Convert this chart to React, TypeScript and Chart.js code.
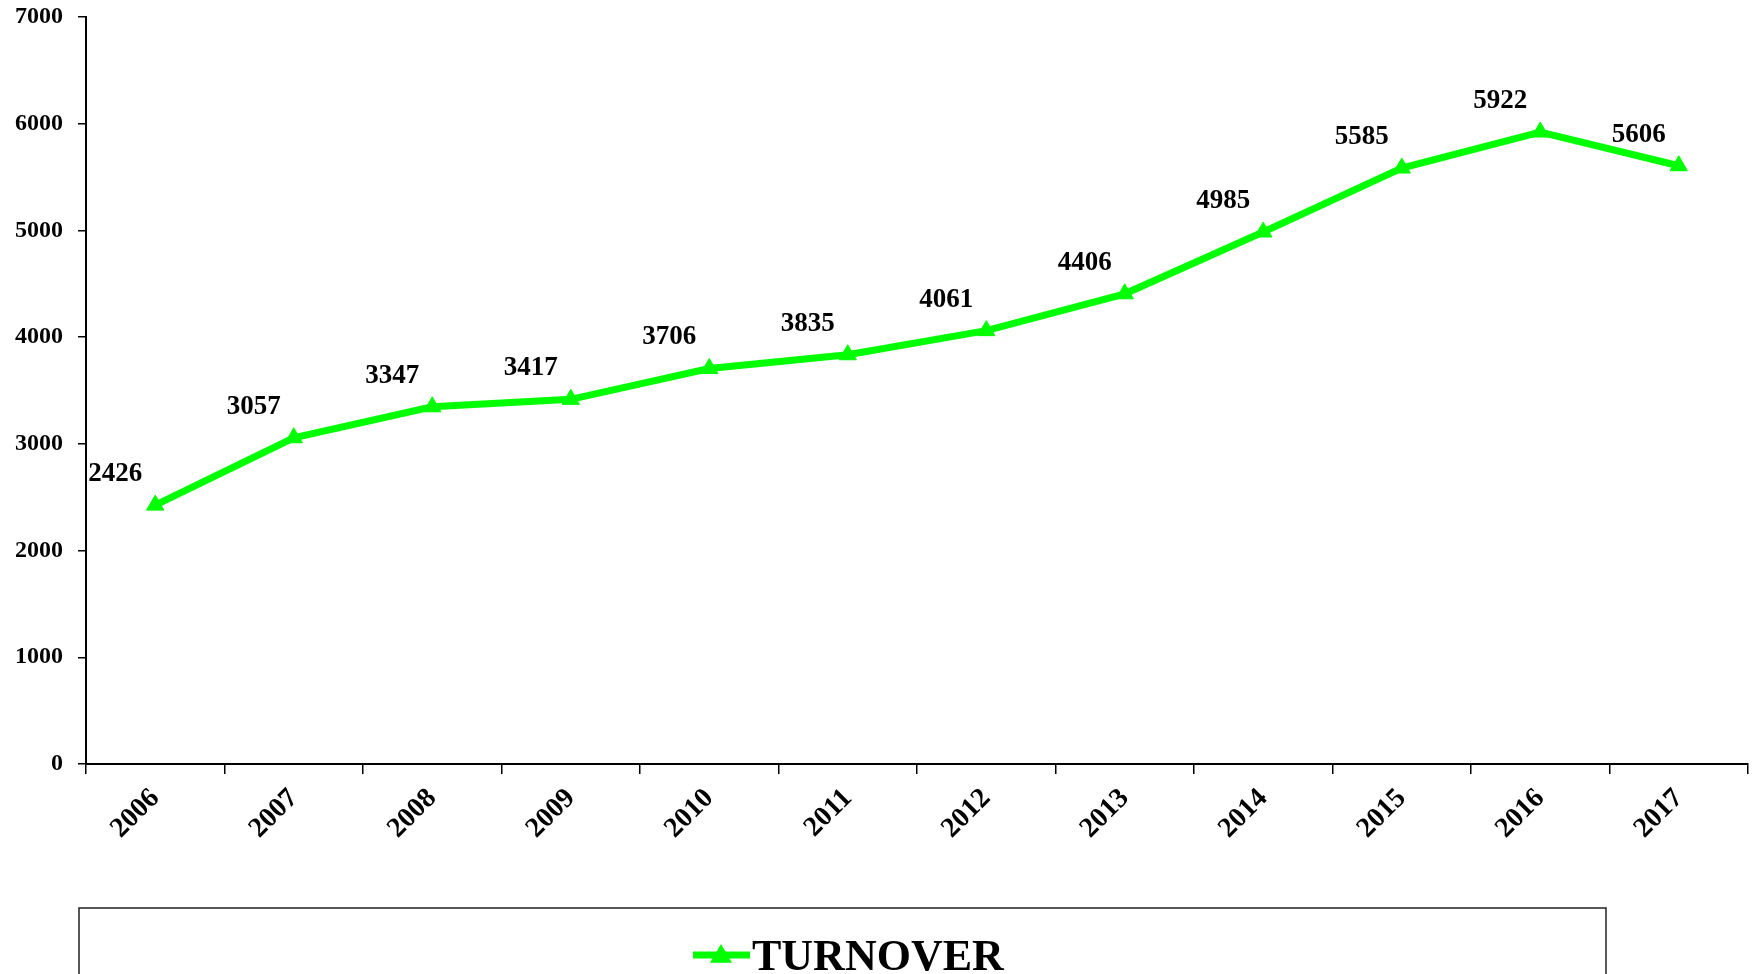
import React, { useEffect, useRef } from "react";
import { Chart, registerables } from "chart.js";

Chart.register(...registerables);

const categories = ["2006", "2007", "2008", "2009", "2010", "2011", "2012", "2013", "2014", "2015", "2016", "2017"];
const turnover = [2426, 3057, 3347, 3417, 3706, 3835, 4061, 4406, 4985, 5585, 5922, 5606];
const seriesLabel = "TURNOVER";
const yMin = 0;
const yMax = 7000;
const yStep = 1000;

const SERIF = '"Liberation Serif", "Times New Roman", serif';
const GREEN = "#00FF00";

const dataLabelPlugin = {
  id: "dataLabels",
  afterDatasetsDraw(chart: any) {
    const ctx = chart.ctx;
    const meta = chart.getDatasetMeta(0);
    const ds = chart.data.datasets[0];
    ctx.save();
    ctx.font = `bold 27px ${SERIF}`;
    ctx.fillStyle = "#000";
    ctx.textAlign = "center";
    ctx.textBaseline = "middle";
    meta.data.forEach((pt: any, i: number) => {
      ctx.fillText(String(ds.data[i]), pt.x - 40, pt.y - 31);
    });
    ctx.restore();
  },
};

const legendBoxPlugin = {
  id: "legendBox",
  afterDraw(chart: any) {
    const ctx = chart.ctx;
    const ds = chart.data.datasets[0];
    ctx.save();
    ctx.strokeStyle = "#222";
    ctx.lineWidth = 1.5;
    ctx.strokeRect(79, 908, 1527, 120);
    const cy = 955;
    ctx.strokeStyle = ds.borderColor;
    ctx.lineWidth = 7;
    ctx.beginPath();
    ctx.moveTo(693, cy);
    ctx.lineTo(750, cy);
    ctx.stroke();
    ctx.fillStyle = ds.backgroundColor;
    const r = 11;
    ctx.beginPath();
    ctx.moveTo(721, cy - r);
    ctx.lineTo(721 + r, cy + r * 0.7);
    ctx.lineTo(721 - r, cy + r * 0.7);
    ctx.closePath();
    ctx.fill();
    ctx.fillStyle = "#000";
    ctx.font = `bold 44px ${SERIF}`;
    ctx.textAlign = "left";
    ctx.textBaseline = "alphabetic";
    ctx.fillText(ds.label, 752, 970);
    ctx.restore();
  },
};

export default function App() {
  const ref = useRef<HTMLCanvasElement>(null);
  useEffect(() => {
    if (!ref.current) return;
    const chart = new Chart(ref.current, {
      type: "line",
      data: {
        labels: categories,
        datasets: [
          {
            label: seriesLabel,
            data: turnover,
            borderColor: GREEN,
            backgroundColor: GREEN,
            borderWidth: 7,
            tension: 0,
            pointStyle: "triangle",
            pointRadius: 10,
            pointBorderWidth: 1,
            pointBackgroundColor: GREEN,
            pointBorderColor: GREEN,
          },
        ],
      },
      options: {
        responsive: false,
        animation: false,
        devicePixelRatio: 1,
        layout: { padding: { top: 17, right: 12, bottom: 0, left: 0 } },
        plugins: {
          legend: { display: false },
          tooltip: { enabled: false },
        },
        scales: {
          x: {
            offset: true,
            grid: {
              offset: true,
              drawOnChartArea: false,
              drawTicks: true,
              tickLength: 10,
              color: "#000",
              lineWidth: 1.5,
            },
            border: { color: "#000", width: 2 },
            ticks: {
              color: "#000",
              font: { family: SERIF, size: 28, weight: "bold" },
              maxRotation: 45,
              minRotation: 45,
              padding: 8,
            },
            afterFit: (s: any) => {
              s.height = 210;
              s.paddingTop = 0;
            },
          },
          y: {
            min: yMin,
            max: yMax,
            grid: {
              drawOnChartArea: false,
              drawTicks: true,
              tickLength: 8,
              color: "#000",
              lineWidth: 1.5,
            },
            border: { color: "#000", width: 2 },
            ticks: {
              stepSize: yStep,
              color: "#000",
              font: { family: SERIF, size: 24, weight: "bold" },
              padding: 15,
              callback: (v: any) => String(v),
            },
            afterFit: (s: any) => {
              s.width = 86;
              s.paddingTop = 0;
              s.paddingBottom = 0;
            },
          },
        },
      },
      plugins: [dataLabelPlugin, legendBoxPlugin],
    });
    return () => chart.destroy();
  }, []);
  return (
    <canvas
      ref={ref}
      width={1760}
      height={974}
      style={{ position: "absolute", left: 0, top: 0, width: 1760, height: 974 }}
    />
  );
}
